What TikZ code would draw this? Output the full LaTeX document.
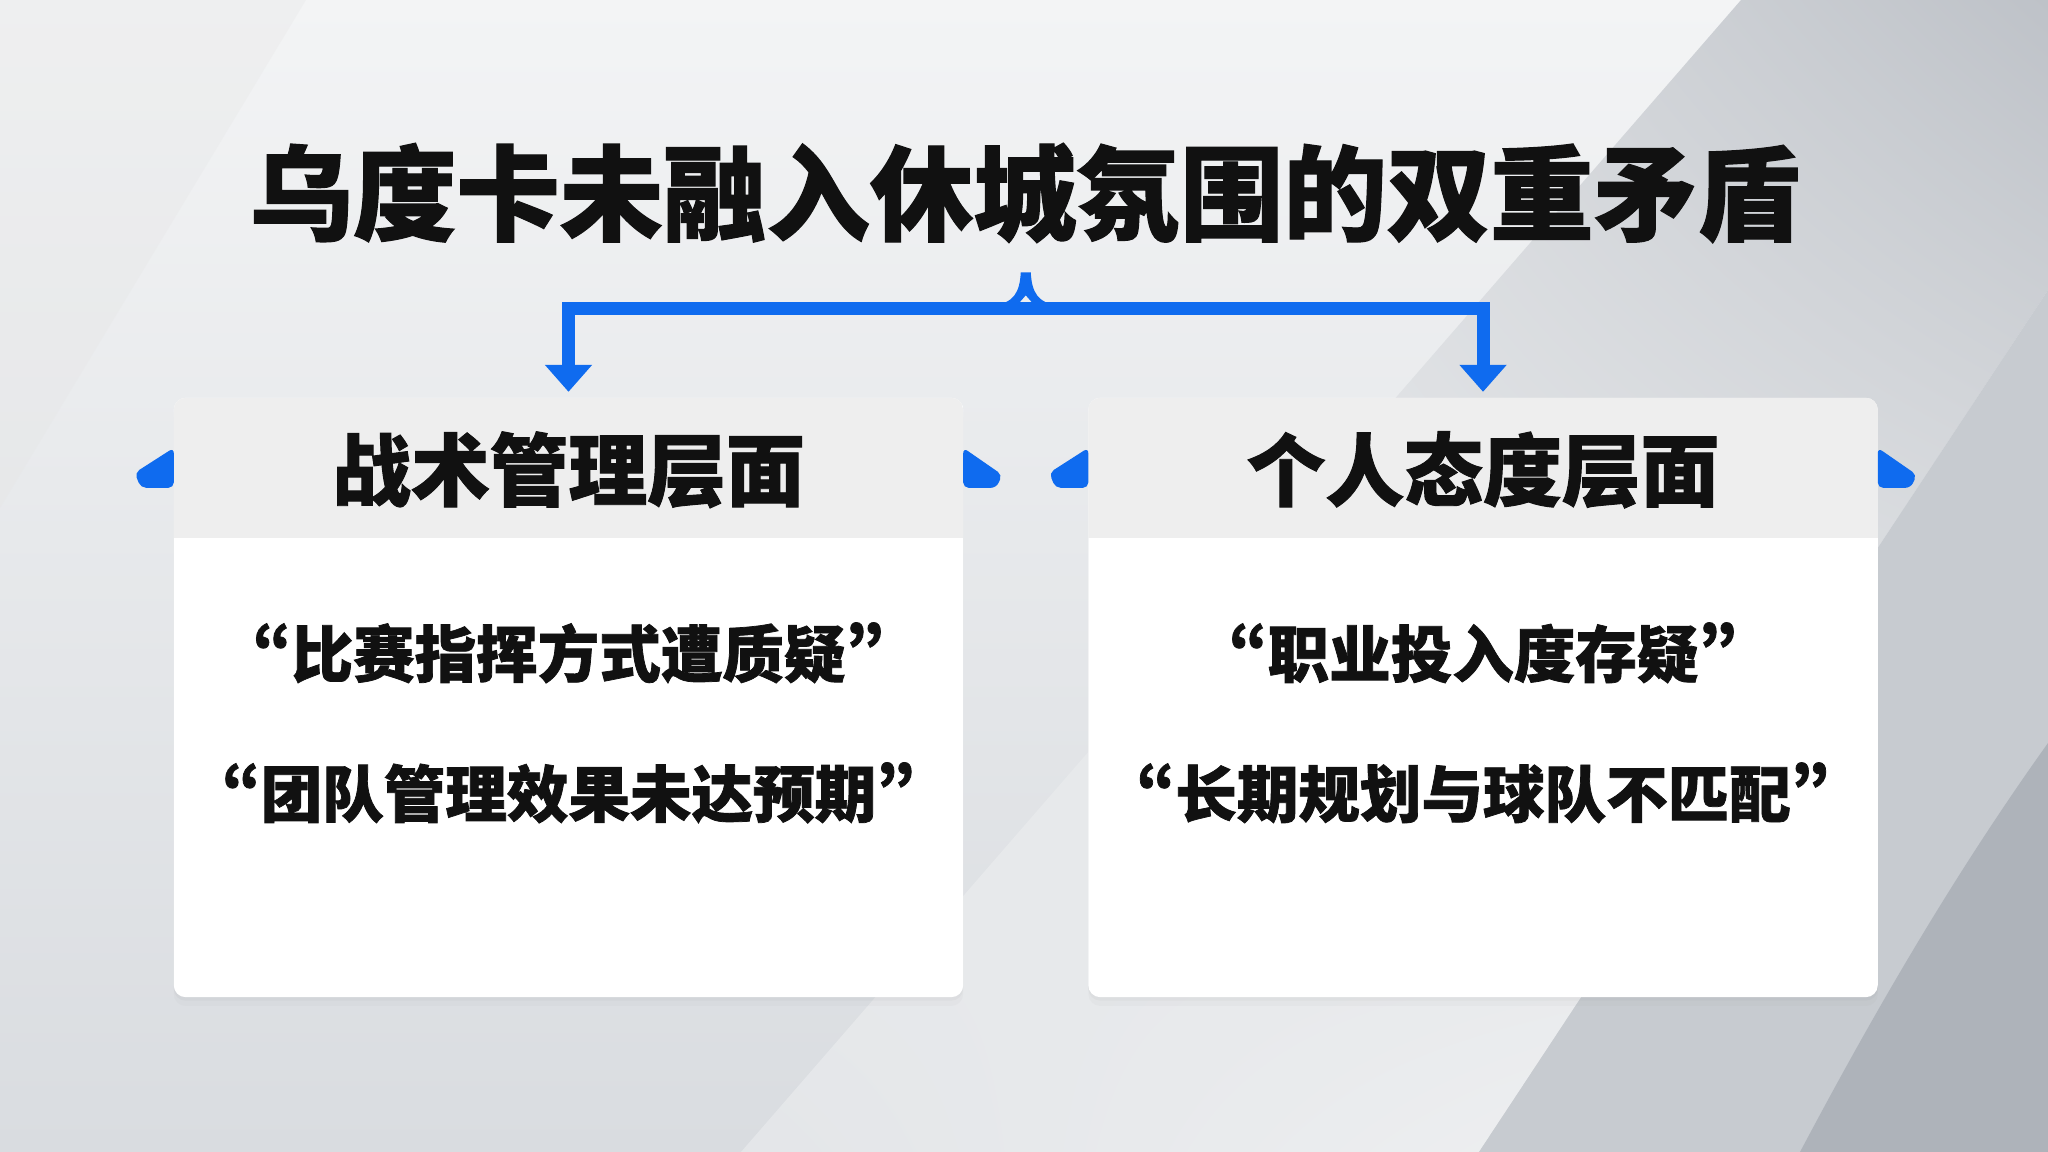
\documentclass[tikz,border=0pt]{standalone}
\usepackage{fontspec}
\setmainfont{Noto Sans CJK SC}[BoldFeatures={FakeBold=1.2},CharacterWidth=Proportional]
\usetikzlibrary{arrows.meta,calc,positioning,shadows,shadings}

\definecolor{pipeblue}{HTML}{0F6BEF}
\definecolor{headgray}{HTML}{EEEEEE}
\definecolor{ink}{HTML}{111111}
\definecolor{bgtop}{HTML}{F3F4F5}
\definecolor{bgbot}{HTML}{D9DCE0}
\definecolor{bgdark}{HTML}{BEC2C8}
\definecolor{bgmid}{HTML}{C7CBD0}
\definecolor{bgdeep}{HTML}{AEB3BA}

\begin{document}
\begin{tikzpicture}[x=0.01cm,y=-0.01cm,thick,node distance=1.25cm]
    \tikzstyle{headline}=[font=\fontsize{29.4}{34}\selectfont\bfseries, text=ink]
    \tikzstyle{card}=[rounded corners=3.4pt, fill=white, outer sep=0pt, minimum width=7.89cm, minimum height=5.99cm,
                      drop shadow={shadow xshift=0pt, shadow yshift=-1pt, opacity=.06},
                      drop shadow={shadow xshift=0pt, shadow yshift=-2.5pt, opacity=.04}]
    \tikzstyle{head}=[font=\fontsize{22.4}{26}\selectfont\bfseries, text=ink]
    \tikzstyle{quote}=[font=\fontsize{17.5}{21}\selectfont\bfseries, text=ink]
    \tikzstyle{tab}=[fill=pipeblue, rounded corners=1.5pt]
    \tikzstyle{pipe}=[draw=pipeblue, line width=3.7pt, -{Triangle[length=7.7pt,width=13pt]}, shorten >=1.7pt]

    \useasboundingbox (0,0) rectangle (2048,1152);

    % background
    \shade[top color=bgtop, bottom color=bgbot] (0,0) rectangle (2048,1152);
    \fill[black!10, opacity=.3] (0,0) -- (306,0) -- (0,508) -- cycle;
    \shade[upper left=bgtop, upper right=bgdark, lower left=bgbot!60!bgtop, lower right=bgtop]
        (1741,0) -- (2048,0) -- (2048,290) -- (1479,1152) -- (741,1152) -- cycle;
    \fill[bgmid] (2048,290) -- (2048,1152) -- (1479,1152) -- cycle;
    \fill[bgdeep] (2048,743) .. controls (1950,880) and (1870,1020) .. (1800,1152) -- (2048,1152) -- cycle;

    \node[headline] (title) at (1025,193) {乌度卡未融入休城氛围的双重矛盾};

    \node[card] (leftcard) at (568.5,697.5) {};
    \node[card] (rightcard) [right=of leftcard] {};

    % header bands
    \begin{scope}
      \clip[rounded corners=3.4pt] (leftcard.north west) rectangle (leftcard.south east);
      \fill[headgray] (leftcard.north west) rectangle ($(leftcard.north east)+(0,140)$);
    \end{scope}
    \begin{scope}
      \clip[rounded corners=3.4pt] (rightcard.north west) rectangle (rightcard.south east);
      \fill[headgray] (rightcard.north west) rectangle ($(rightcard.north east)+(0,140)$);
    \end{scope}

    % side tabs
    \fill[tab] ($(leftcard.north west)+(0,50)$) -- ($(leftcard.north west)+(-39,75)$) -- ($(leftcard.north west)+(-33,90)$) -- ($(leftcard.north west)+(0,90)$) -- cycle;
    \fill[tab] ($(leftcard.north east)+(0,50)$) -- ($(leftcard.north east)+(39,77)$) -- ($(leftcard.north east)+(33,90)$) -- ($(leftcard.north east)+(0,90)$) -- cycle;
    \fill[tab] ($(rightcard.north west)+(0,50)$) -- ($(rightcard.north west)+(-39,75)$) -- ($(rightcard.north west)+(-33,90)$) -- ($(rightcard.north west)+(0,90)$) -- cycle;
    \fill[tab] ($(rightcard.north east)+(0,50)$) -- ($(rightcard.north east)+(39,77)$) -- ($(rightcard.north east)+(33,90)$) -- ($(rightcard.north east)+(0,90)$) -- cycle;

    % fork from the title down to both cards
    \coordinate (fork) at ($(leftcard.north)!0.5!(rightcard.north)+(0,-89.5)$);
    \draw[pipe] (fork) -| (leftcard.north);
    \draw[pipe] (fork) -| (rightcard.north);
    \begin{scope}[shift={(fork)}]
      \fill[pipeblue, even odd rule] (-33,-3) .. controls (-12,-5) and (-6,-16) .. (-5,-36) -- (5,-36)
          .. controls (6,-16) and (12,-5) .. (33,-3) -- cycle
          (-7,-5) -- (0,-13) -- (7,-5) -- cycle;
    \end{scope}

    \node[head] (lefthead) at ($(leftcard.north)+(0,72)$) {战术管理层面};
    \node[head] (righthead) at ($(rightcard.north)+(0,72)$) {个人态度层面};

    \node[quote] (leftq1) at ($(lefthead)+(0,183)$) {“比赛指挥方式遭质疑”};
    \node[quote] (leftq2) at ($(leftq1)+(0,140)$) {“团队管理效果未达预期”};
    \node[quote] (rightq1) at ($(righthead)+(0,183)$) {“职业投入度存疑”};
    \node[quote] (rightq2) at ($(rightq1)+(0,140)$) {“长期规划与球队不匹配”};
\end{tikzpicture}
\end{document}
